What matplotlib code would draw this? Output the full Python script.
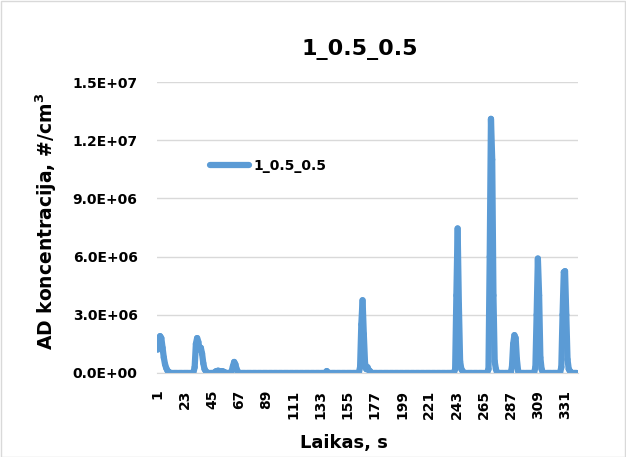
import numpy as np
import matplotlib
matplotlib.use("Agg")
import matplotlib.pyplot as plt
from matplotlib.collections import LineCollection

plt.rcParams['font.family'] = ['DejaVu Sans']

title = "1_0.5_0.5"
series_name = "1_0.5_0.5"
n_points = 341
baseline = 0.02e6
# (start category, values)
seg_starts = [1, 31, 48, 61, 138, 165, 242, 269, 288, 307, 328]
seg_values = [
    [1.2e6, 1.7e6, 1.9e6, 1.8e6, 1.3e6, 0.8e6, 0.45e6, 0.25e6, 0.12e6, 0.06e6],
    [0.3e6, 1.5e6, 1.8e6, 1.6e6, 1.2e6, 1.3e6, 1.0e6, 0.5e6, 0.2e6, 0.1e6],
    [0.08e6, 0.1e6, 0.12e6, 0.1e6, 0.09e6, 0.1e6, 0.08e6, 0.05e6],
    [0.1e6, 0.35e6, 0.57e6, 0.45e6, 0.2e6, 0.06e6],
    [0.1e6],
    [0.3e6, 2.5e6, 3.75e6, 2.0e6, 0.5e6, 0.2e6, 0.3e6, 0.15e6, 0.1e6],
    [0.2e6, 4.0e6, 7.45e6, 3.5e6, 0.6e6, 0.2e6, 0.1e6],
    [0.2e6, 6.0e6, 13.1e6, 11.0e6, 4.0e6, 0.6e6, 0.2e6],
    [0.3e6, 1.5e6, 1.95e6, 1.8e6, 0.7e6, 0.1e6],
    [0.3e6, 3.0e6, 5.9e6, 4.0e6, 0.8e6, 0.2e6],
    [0.3e6, 3.0e6, 5.2e6, 5.25e6, 3.0e6, 0.7e6, 0.2e6, 0.1e6],
]
y_ticks = [0, 3e6, 6e6, 9e6, 1.2e7, 1.5e7]
y_ticklabels = ["0.0E+00", "3.0E+06", "6.0E+06", "9.0E+06", "1.2E+07", "1.5E+07"]
x_ticks = list(range(1, 342, 22))

cats = np.arange(1, n_points + 1)
vals = np.full(n_points, baseline)
for s, v in zip(seg_starts, seg_values):
    vals[s - 1:s - 1 + len(v)] = v

W, H = 626, 457
fig = plt.figure(figsize=(W / 100, H / 100), dpi=100)
ax = fig.add_axes([157 / W, 1 - 373 / H, (578 - 157) / W, (373 - 82) / H])

color = '#5B9BD5'
pts = np.column_stack([cats, vals])
segs = np.stack([pts[:-1], pts[1:]], axis=1)
lc = LineCollection(segs, colors=color, linewidths=4.5, capstyle='round')
ax.add_collection(lc)
ax.plot([], [], color=color, lw=4.5, solid_capstyle='round', label=series_name)

ax.set_xlim(0.5, n_points + 0.5)
ax.set_ylim(0, 1.5e7)
ax.set_yticks(y_ticks)
ax.set_yticklabels(y_ticklabels, fontsize=10, fontweight='bold')
ax.set_xticks(x_ticks)
ax.set_xticklabels([str(t) for t in x_ticks], rotation=90, fontsize=10, fontweight='bold')
ax.tick_params(axis='x', length=0, pad=12)
ax.tick_params(axis='y', length=0, pad=14)
ax.grid(axis='y', color='#d9d9d9', lw=1)
ax.set_axisbelow(True)
for sp in ['top', 'right', 'left']:
    ax.spines[sp].set_visible(False)
ax.spines['bottom'].set_color('#d9d9d9')

fig.text(360 / W, 1 - 49 / H, title, fontsize=16, fontweight='bold', ha='center', va='center')
fig.text(344 / W, 1 - 443 / H, "Laikas, s", fontsize=13, fontweight='bold', ha='center', va='center')
fig.text(46 / W, 1 - 221 / H, "AD koncentracija, #/cm$^\\mathregular{3}$", fontsize=13.5,
         fontweight='bold', ha='center', va='center', rotation=90)

leg = ax.legend(loc='center left', bbox_to_anchor=((210 - 157) / 421, (373 - 166) / 291),
                frameon=False, borderaxespad=0, borderpad=0,
                prop={'size': 10, 'weight': 'bold'}, handlelength=2.8, handletextpad=0.3)

fig.patches.append(plt.Rectangle((0.001, 0.001), 0.997, 0.997, transform=fig.transFigure,
                                 fill=False, edgecolor='#d9d9d9', lw=1))

fig.savefig("out.png", dpi=100)
